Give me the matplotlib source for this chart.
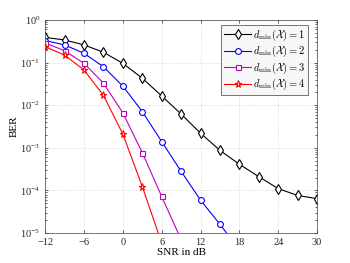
import numpy as np
import matplotlib
matplotlib.use("Agg")
import matplotlib.pyplot as plt
from matplotlib.ticker import LogLocator, NullFormatter

snr = [-12, -9, -6, -3, 0, 3, 6, 9, 12, 15, 18, 21, 24, 27, 30]

ber_d1 = [0.39, 0.34, 0.26, 0.175, 0.096, 0.043, 0.0165, 0.0062, 0.0022,
          8.7e-4, 4.1e-4, 2.1e-4, 1.1e-4, 7.6e-5, 6.4e-5]
ber_d2 = [0.33, 0.26, 0.165, 0.08, 0.028, 0.0071, 0.0014, 2.8e-4, 5.9e-5,
          1.6e-5, 4e-6]
ber_d3 = [0.29, 0.19, 0.096, 0.033, 0.0066, 7.7e-4, 7.2e-5, 7e-6]
ber_d4 = [0.236, 0.15, 0.067, 0.017, 0.0021, 1.23e-4, 5.8e-6]

series = [
    (ber_d1, "k", "d", 4.8, r"$d_{\min}(\mathcal{X}) = 1$"),
    (ber_d2, "b", "o", 4.2, r"$d_{\min}(\mathcal{X}) = 2$"),
    (ber_d3, "m", "s", 3.6, r"$d_{\min}(\mathcal{X}) = 3$"),
    (ber_d4, "r", "*", 5.2, r"$d_{\min}(\mathcal{X}) = 4$"),
]

plt.rcParams["font.family"] = ["Liberation Serif", "DejaVu Serif"]
plt.rcParams["mathtext.fontset"] = "cm"

fig = plt.figure(figsize=(3.5, 2.63), dpi=100)
ax = fig.add_axes([0.129, 0.114, 0.777, 0.810])

for vals, c, m, ms, lab in series:
    ax.plot(snr[:len(vals)], vals, color=c, marker=m, markersize=ms,
            markerfacecolor="white", markeredgecolor=c, markeredgewidth=0.8,
            linewidth=0.8, label=lab)

ax.set_yscale("log")
ax.set_xlim(-12, 30)
ax.set_ylim(1e-5, 1)
ax.set_xticks(np.arange(-12, 31, 6))
ax.yaxis.set_major_locator(LogLocator(base=10, numticks=10))
ax.yaxis.set_minor_locator(LogLocator(base=10, subs=np.arange(2, 10), numticks=10))
ax.yaxis.set_minor_formatter(NullFormatter())
ax.tick_params(direction="in", top=True, right=True, which="both",
               labelsize=7.5, length=2.5, width=0.5, colors="#262626")
ax.tick_params(which="minor", length=1.5)
ax.grid(True, which="major", linestyle=":", linewidth=0.5, color="#c8c8c8")
for s in ax.spines.values():
    s.set_color("#404040")
    s.set_linewidth(0.5)

ax.set_xlabel("SNR in dB", fontsize=8, labelpad=1)
ax.set_ylabel("BER", fontsize=8, labelpad=1)

leg = ax.legend(loc="upper right", bbox_to_anchor=(0.967, 0.977),
                borderaxespad=0, fontsize=7.5, handlelength=2.6,
                labelspacing=0.12, handletextpad=0.2,
                borderpad=0.25, fancybox=False, framealpha=1)
leg.get_frame().set_edgecolor("#404040")
leg.get_frame().set_linewidth(0.5)
leg.get_frame().set_facecolor("#f7f7f7")

fig.savefig("out.png", dpi=100)
